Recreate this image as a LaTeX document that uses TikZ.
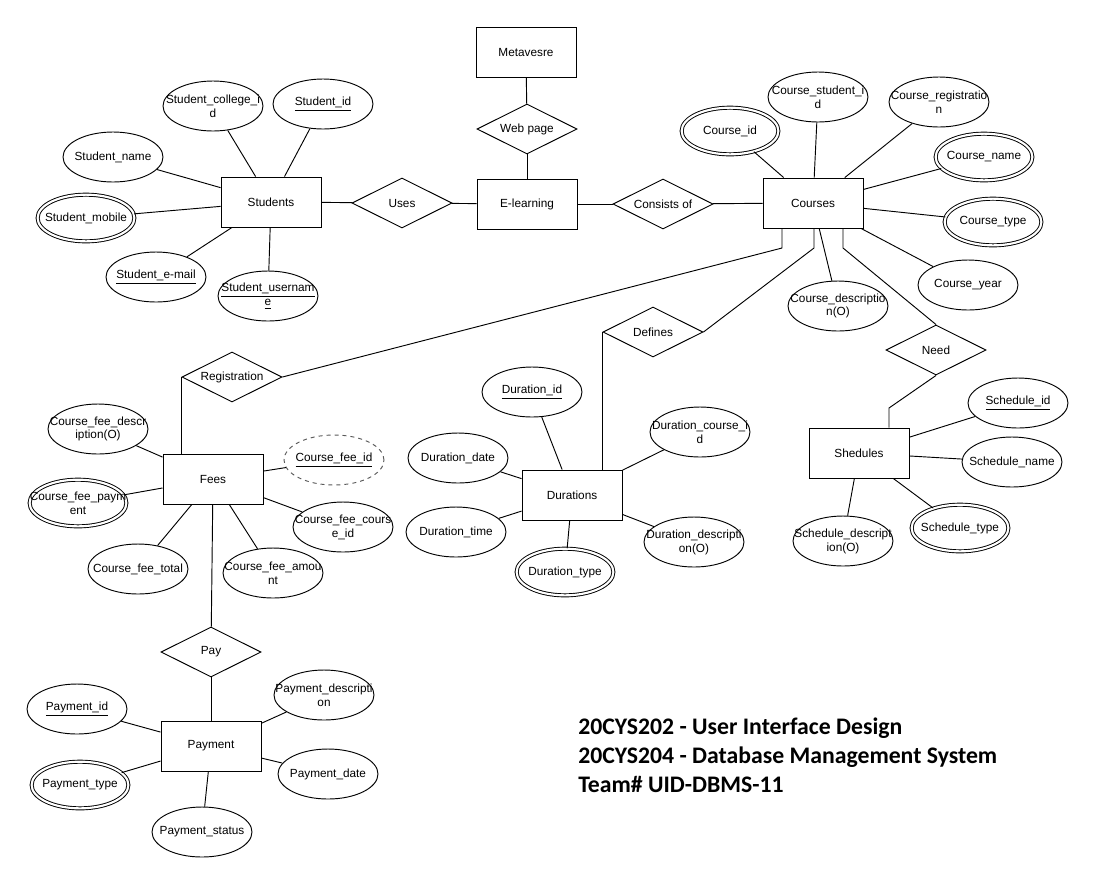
\documentclass[tikz,border=0pt]{standalone}
\usepackage{fontspec}
\setmainfont{Liberation Sans}
\newfontfamily\teamfont{Carlito}
\usetikzlibrary{shapes.geometric}
\begin{document}
\begin{tikzpicture}[x=0.75pt,y=-0.75pt,
  every node/.style={font=\fontsize{8.85pt}{10.4pt}\selectfont, text=black},
  ent/.style={draw, rectangle, minimum width=75pt, minimum height=37.5pt, inner sep=0pt, line width=0.7pt},
  rel/.style={draw, diamond, aspect=2, minimum width=75pt, minimum height=37.5pt, inner sep=0pt, line width=0.7pt},
  attr/.style={draw, ellipse, minimum width=75pt, minimum height=37.5pt, inner xsep=-40pt, inner ysep=-20pt, align=center, line width=0.7pt},
  dattr/.style={attr, double, double distance=1.6pt, minimum width=72.6pt, minimum height=35pt},
  wattr/.style={attr, dashed, draw=black!65},
  conn/.style={line width=0.7pt},
  capt/.style={anchor=base west, inner sep=0pt, font=\teamfont\bfseries\fontsize{17.8pt}{21pt}\selectfont}
]
\useasboundingbox[fill=white] (0,0) rectangle (1094,883);

% entities
\node[ent] (meta) at (526,52) {Metavesre};
\node[ent] (elearn) at (527,204) {E-learning};
\node[ent] (stud) at (271,202) {Students};
\node[ent] (courses) at (813,203) {Courses};
\node[ent] (fees) at (213,479) {Fees};
\node[ent] (durs) at (572,495) {Durations};
\node[ent] (sched) at (859,453) {Shedules};
\node[ent] (payent) at (211,746) {Payment};

% relationships
\node[rel] (web) at (527,129) {Web page};
\node[rel] (uses) at (402,203) {Uses};
\node[rel] (cons) at (663,204) {Consists of};
\node[rel] (reg) at (232,377) {Registration};
\node[rel] (def) at (653,332) {Defines};
\node[rel] (need) at (936,350) {Need};
\node[rel] (payrel) at (211,652) {Pay};

% student attributes
\node[attr] (scid) at (213,106) {Student\_college\_i\\d};
\node[attr] (sid) at (323,104) {\underline{Student\_id}};
\node[attr] (sname) at (113,157) {Student\_name};
\node[dattr] (smob) at (86,218) {Student\_mobile};
\node[attr] (smail) at (156,277) {\underline{Student\_e-mail}};
\node[attr] (suser) at (268,296) {\underline{Student\_usernam}\\\underline{e}};

% course attributes
\node[dattr] (cid) at (730,131) {Course\_id};
\node[attr] (csid) at (818,97) {Course\_student\_i\\d};
\node[attr] (creg) at (939,102) {Course\_registratio\\n};
\node[dattr] (cname) at (984,157) {Course\_name};
\node[dattr] (ctype) at (993,222) {Course\_type};
\node[attr] (cyear) at (968,285) {Course\_year};
\node[attr] (cdesc) at (838,306) {Course\_descriptio\\n(O)};

% schedule attributes
\node[attr] (schid) at (1018,403) {\underline{Schedule\_id}};
\node[attr] (schname) at (1012,462) {Schedule\_name};
\node[dattr] (schtype) at (960,528) {Schedule\_type};
\node[attr] (schdesc) at (843,541) {Schedule\_descript\\ion(O)};

% duration attributes
\node[attr] (did) at (532,392) {\underline{Duration\_id}};
\node[attr] (dcid) at (700,432) {Duration\_course\_i\\d};
\node[attr] (ddate) at (458,458) {Duration\_date};
\node[attr] (dtime) at (456,532) {Duration\_time};
\node[dattr] (dtype) at (565,572) {Duration\_type};
\node[attr] (ddesc) at (694,542) {Duration\_descripti\\on(O)};

% fee attributes
\node[attr] (cfdesc) at (98,429) {Course\_fee\_descr\\iption(O)};
\node[wattr] (cfid) at (334,460) {\underline{Course\_fee\_id}};
\node[dattr] (cfpay) at (78,503) {Course\_fee\_paym\\ent};
\node[attr] (cfcid) at (343,527) {Course\_fee\_cours\\e\_id};
\node[attr] (cftotal) at (138,569) {Course\_fee\_total};
\node[attr] (cfamt) at (273,573) {Course\_fee\_amou\\nt};

% payment attributes
\node[attr] (pid) at (77,709) {\underline{Payment\_id}};
\node[dattr] (ptype) at (80,785) {Payment\_type};
\node[attr] (pstatus) at (202,832) {Payment\_status};
\node[attr] (pdesc) at (324,695) {Payment\_descripti\\on};
\node[attr] (pdate) at (328,774) {Payment\_date};

% elbow points
\coordinate (k1) at (782,248);
\coordinate (k2) at (814,248);
\coordinate (k3) at (843,248);
\coordinate (k4) at (889,408);

% relationship connectors
\draw[conn] (meta) -- (web);
\draw[conn] (web) -- (elearn);
\draw[conn] (stud) -- (uses);
\draw[conn] (uses) -- (elearn);
\draw[conn] (elearn) -- (cons);
\draw[conn] (cons) -- (courses);
\draw[conn] (courses.south -| k1) -- (k1) -- (reg.east);
\draw[conn] (reg.west) -- (reg.west |- fees.north);
\draw[conn] (courses.south -| k2) -- (k2) -- (def.east);
\draw[conn] (def.west) -- (def.west |- durs.north);
\draw[conn] (courses.south -| k3) -- (k3) -- (need.north);
\draw[conn] (need.south) -- (k4) -- (k4 |- sched.north);
\draw[conn] (fees) -- (payrel);
\draw[conn] (payrel) -- (payent);

% attribute connectors
\foreach \a in {scid,sid,sname,smob,smail,suser} \draw[conn] (\a) -- (stud);
\foreach \a in {cid,csid,creg,cname,ctype,cyear,cdesc} \draw[conn] (\a) -- (courses);
\foreach \a in {schid,schname,schtype,schdesc} \draw[conn] (\a) -- (sched);
\foreach \a in {did,dcid,ddate,dtime,dtype,ddesc} \draw[conn] (\a) -- (durs);
\foreach \a in {cfdesc,cfid,cfpay,cfcid,cftotal,cfamt} \draw[conn] (\a) -- (fees);
\foreach \a in {pid,ptype,pstatus,pdesc,pdate} \draw[conn] (\a) -- (payent);

% caption
\node[capt] (cap1) at (578,734) {20CYS202 - User Interface Design};
\node[capt] (cap2) at (578,763) {20CYS204 - Database Management System};
\node[capt] (cap3) at (578,792) {Team\# UID-DBMS-11};
\end{tikzpicture}
\end{document}
